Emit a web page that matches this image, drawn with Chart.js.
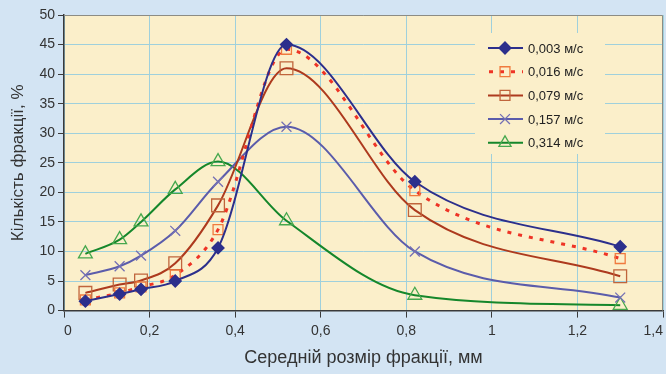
<!DOCTYPE html>
<html lang="uk">
<head>
  <meta charset="UTF-8" />
  <title>Кількість фракції</title>
  <script src="https://cdn.jsdelivr.net/npm/chart.js"></script>
  <style>
    html, body { margin: 0; padding: 0; background: #d3e4f3; }
    #wrap { width: 666px; height: 374px; }
  </style>
</head>
<body>
  <div id="wrap"><canvas id="chart" width="666" height="374"></canvas></div>

  <script>
    // розміри фракцій, мм
    const sizes = [0.05, 0.13, 0.18, 0.26, 0.36, 0.52, 0.82, 1.3];
    const labels = ['0,003 м/с', '0,016 м/с', '0,079 м/с', '0,157 м/с', '0,314 м/с'];
    const v003 = [1.6, 2.8, 3.6, 5.0, 10.6, 45.0, 21.8, 10.8];
    const v016 = [1.8, 3.0, 4.0, 6.0, 13.7, 44.2, 20.3, 8.8];
    const v079 = [3.0, 4.4, 5.1, 8.0, 17.8, 41.0, 17.0, 5.8];
    const v157 = [6.0, 7.5, 9.3, 13.5, 21.8, 31.1, 10.0, 2.2];
    const v314 = [9.6, 12.0, 15.0, 20.5, 25.2, 15.2, 2.6, 0.9];

    const pts = arr => arr.map((y, i) => ({ x: sizes[i], y }));
    const font = 'Arial, "Liberation Sans", sans-serif';

    const ds = (label, data, line, marker, style, radius, extra) => Object.assign({
      label, data: pts(data),
      borderColor: line, borderWidth: 2,
      pointStyle: style, pointRadius: radius, pointHoverRadius: radius,
      pointBorderColor: marker, pointBackgroundColor: 'rgba(0,0,0,0)',
      pointBorderWidth: 1.3,
      cubicInterpolationMode: 'monotone', fill: false
    }, extra || {});

    const datasets = [
      ds(labels[0], v003, '#2c2f8c', '#2c2f8c', 'rectRot', 6, { pointBackgroundColor: '#2c2f8c' }),
      ds(labels[1], v016, '#ee3426', '#f07a3e', 'rect', 7, { borderDash: [4, 7], borderWidth: 3 }),
      ds(labels[2], v079, '#ad3a1e', '#c0653c', 'rect', 9),
      ds(labels[3], v157, '#5b5cab', '#7470b4', 'crossRot', 7),
      ds(labels[4], v314, '#15872b', '#46a84e', 'triangle', 8)
    ];

    const plotBg = {
      id: 'plotBg',
      beforeDraw(chart) {
        const { ctx, chartArea: a } = chart;
        ctx.save();
        ctx.fillStyle = '#d3e4f3';
        ctx.fillRect(0, 0, chart.width, chart.height);
        ctx.fillStyle = '#fbefca';
        ctx.fillRect(a.left, a.top, a.right - a.left, a.bottom - a.top);
        ctx.restore();
      },
      afterDraw(chart) {
        const { ctx, chartArea: a } = chart;
        ctx.save();
        ctx.strokeStyle = '#8c8c84';
        ctx.lineWidth = 1;
        ctx.beginPath();
        ctx.moveTo(a.left, a.top + 0.5);
        ctx.lineTo(a.right - 0.5, a.top + 0.5);
        ctx.lineTo(a.right - 0.5, a.bottom);
        ctx.stroke();
        ctx.restore();
      }
    };

    // легенда всередині поля графіка
    const boxLegend = {
      id: 'boxLegend',
      afterDatasetsDraw(chart) {
        const { ctx } = chart;
        ctx.save();
        ctx.fillStyle = '#fbefca';
        ctx.fillRect(475, 33, 130, 121);
        chart.data.datasets.forEach((d, i) => {
          const y = 48 + i * 23.7;
          ctx.strokeStyle = d.borderColor;
          ctx.lineWidth = d.borderWidth;
          ctx.setLineDash(d.borderDash ? [4, 7] : []);
          ctx.beginPath();
          if (d.borderDash) {
            ctx.moveTo(489, y); ctx.lineTo(523, y);
          } else {
            ctx.moveTo(488, y); ctx.lineTo(523, y);
          }
          ctx.stroke();
          ctx.setLineDash([]);
          ctx.strokeStyle = d.pointBorderColor;
          ctx.fillStyle = d.pointBackgroundColor;
          ctx.lineWidth = d.pointBorderWidth;
          Chart.helpers.drawPoint(ctx, { pointStyle: d.pointStyle, radius: Math.min(d.pointRadius, 7), rotation: 0, borderWidth: d.pointBorderWidth }, 505, y);
          ctx.fillStyle = '#222';
          ctx.font = '13px ' + font;
          ctx.textBaseline = 'middle';
          ctx.fillText(d.label, 528, y + 1);
        });
        ctx.restore();
      }
    };

    new Chart(document.getElementById('chart'), {
      type: 'line',
      data: { datasets },
      plugins: [plotBg, boxLegend],
      options: {
        responsive: false,
        animation: false,
        events: [],
        layout: { autoPadding: false, padding: { top: 15, right: 3, left: 0, bottom: 5 } },
        plugins: { legend: { display: false }, tooltip: { enabled: false } },
        scales: {
          x: {
            type: 'linear', min: 0, max: 1.4,
            border: { color: '#3a3a3a', width: 1.5 },
            grid: { color: '#9fd0dc', lineWidth: 1, tickLength: 7, tickColor: '#3a3a3a' },
            ticks: {
              stepSize: 0.2, color: '#333', padding: 5, align: 'inner',
              font: { size: 14, family: font },
              callback: v => String(Math.round(v * 10) / 10).replace('.', ',')
            },
            title: { display: true, text: 'Середній розмір фракції, мм', color: '#333', font: { size: 18, family: font }, padding: { top: 3, bottom: 0 } },
            afterFit(s) { s.paddingLeft = 0; s.paddingRight = 0; }
          },
          y: {
            min: 0, max: 50,
            border: { color: '#3a3a3a', width: 1.5 },
            grid: { color: '#9fd0dc', lineWidth: 1, tickLength: 6, tickColor: '#3a3a3a' },
            ticks: { stepSize: 5, color: '#333', padding: 3, font: { size: 14, family: font } },
            title: { display: true, text: 'Кількість фракції, %', color: '#333', font: { size: 17, family: font }, padding: { top: 8, bottom: 0 } },
            afterFit(s) { s.width = 64; s.paddingTop = 0; s.paddingBottom = 0; }
          }
        }
      }
    });
  </script>
</body>
</html>
